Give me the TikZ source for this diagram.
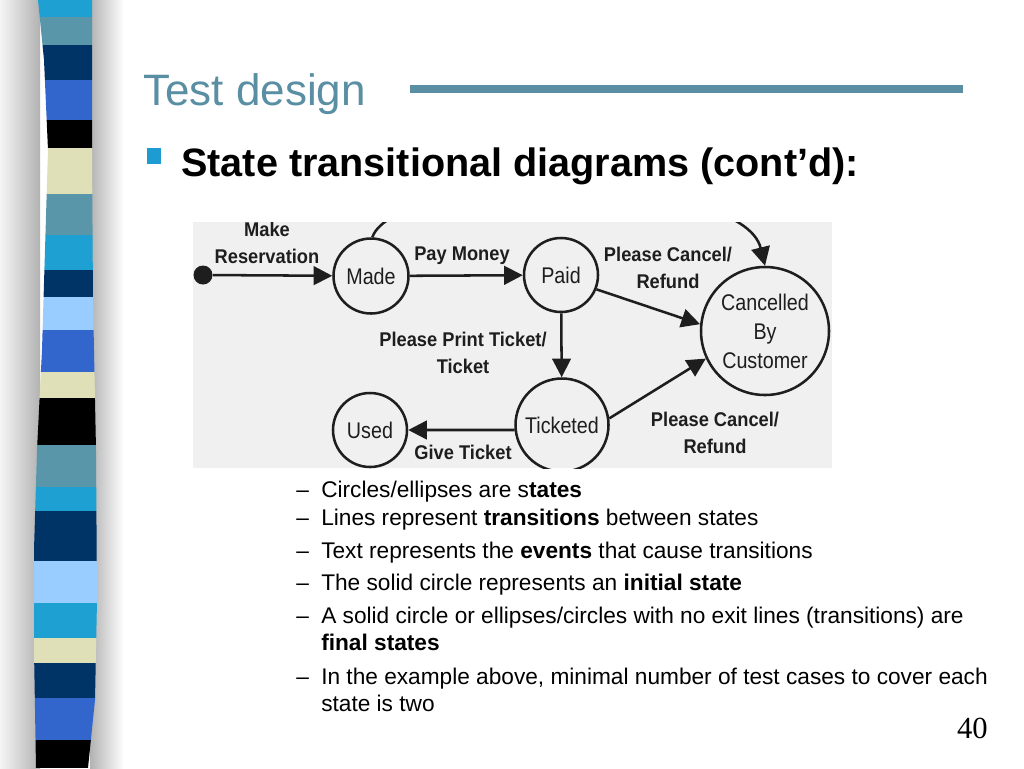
\documentclass[tikz,border=0pt]{standalone}
\usepackage{fontspec}
\setmainfont{Liberation Sans}
\newfontfamily\serifnum{Liberation Serif}
\newfontfamily\statefont{Liberation Sans}[FakeStretch=0.87]
\newfontfamily\lblfont{Liberation Sans}[FakeStretch=0.92]
\usetikzlibrary{arrows.meta}
\definecolor{scyan}{RGB}{30,160,210}
\definecolor{ssteel}{RGB}{90,150,170}
\definecolor{snavy}{RGB}{0,51,102}
\definecolor{sroyal}{RGB}{51,102,204}
\definecolor{spale}{RGB}{224,224,184}
\definecolor{slight}{RGB}{153,204,255}
\definecolor{titleblue}{RGB}{90,143,163}
\definecolor{bulletblue}{RGB}{30,155,208}
\definecolor{boxgray}{RGB}{240,240,240}
\definecolor{ink}{RGB}{30,30,30}
\tikzset{
  state/.style={circle, draw=ink, line width=1.9pt, inner sep=0pt, align=center,
    font=\statefont\fontsize{17}{21.75}\selectfont, text=ink},
  lbl/.style={font=\lblfont\bfseries\fontsize{14.9}{20.5}\selectfont, align=center, text=ink, inner sep=0pt},
  arr/.style={line width=1.9pt, draw=ink, -{Triangle[length=14pt,width=14pt]}},
  item/.style={anchor=base west, inner sep=0pt, font=\fontsize{17}{20}\selectfont, text=black}
}
\begin{document}
\begin{tikzpicture}[x=0.75pt,y=-0.75pt]
\useasboundingbox (0,0) rectangle (1024,768);
\fill[white] (0,0) rectangle (1024,768);
% shadows of the strip
\shade[left color=gray!8, right color=gray!60] (0,0) rectangle (40,768);
\shade[left color=gray!60, right color=white] (90,0) rectangle (124,768);
% strip
\begin{scope}
\clip (38,0) -- (44,60) -- (48,150) -- (45,250) -- (42,350) -- (37,450) -- (34,550)
  -- (34,650) -- (36,768) -- (88,768) -- (95,700) -- (97,600) -- (96,450) -- (93,300)
  -- (92,150) -- (92,0) -- cycle;
\foreach \ya/\yb/\c in {0/17/scyan,17/45/ssteel,45/80/snavy,80/120/sroyal,120/148/black,
  148/194/spale,194/235/ssteel,235/270/scyan,270/297/snavy,297/330/slight,330/372/sroyal,
  372/398/spale,398/445/black,445/487/ssteel,487/511/scyan,511/561/snavy,561/603/slight,
  603/638/scyan,638/663/spale,663/698/snavy,698/740/sroyal,740/768/black}
  {\fill[\c] (20,\ya) rectangle (110,\yb);}
\end{scope}
% title
\node[anchor=base west, inner sep=0pt, text=titleblue, font=\fontsize{33}{36}\selectfont] (title) at (143,105) {Test design};
\draw[titleblue, line width=6pt] (410,89) coordinate (la) -- (963,89) coordinate (lb);
\fill[bulletblue] (147,148) rectangle (161,164);
\node[anchor=base west, inner sep=0pt, font=\bfseries\fontsize{29.7}{33}\selectfont] (head) at (181,176) {State transitional diagrams (cont’d):};
% diagram
\fill[boxgray] (193,222) rectangle (832,468);
\begin{scope}
\clip (193,222) rectangle (832,468);
\node[circle, fill=ink, inner sep=0pt, minimum size=14.25pt] (init) at (203,275) {};
\node[state, minimum size=56.25pt] (made) at (371,276) {Made};
\node[state, minimum size=55.5pt] (paid) at (561,275) {Paid};
\node[state, minimum size=69.75pt] (tick) at (562,425) {Ticketed};
\node[state, minimum size=55.5pt] (used) at (370,430) {Used};
\node[state, minimum size=96pt] (canc) at (765,331) {Cancelled\\By\\Customer};
\draw[arr] (init) -- (made);
\draw[arr] (made) -- (paid);
\draw[arr] (paid) -- (tick);
\draw[arr] (tick.186) -- (used);
\draw[arr] (paid.-22) -- (canc.174);
\draw[arr] (tick.8) -- (canc.205);
\draw[arr] (made.88) .. controls (395,172) and (742,172) .. (canc.90);
\node[lbl] (lmake) at (267,243) {Make\\Reservation};
\node[lbl] (lpay) at (462,256) {Pay Money};
\node[lbl] (lprint) at (463,353) {Please Print Ticket/\\Ticket};
\node[lbl] (lc1) at (668,268) {Please Cancel/\\Refund};
\node[lbl] (lc2) at (715,433) {Please Cancel/\\Refund};
\node[lbl] (lgive) at (463,452) {Give Ticket};
\end{scope}
% bullet list
\foreach \n/\y in {1/497,2/525,3/558,4/590,5/623,6/684}
  {\node[item] (d\n) at (296,\y) {–};}
\node[item] (t1) at (321,497) {Circles/ellipses are s\textbf{tates}};
\node[item] (t2) at (321,525) {Lines represent \textbf{transitions} between states};
\node[item] (t3) at (321,558) {Text represents the \textbf{events} that cause transitions};
\node[item] (t4) at (321,590) {The solid circle represents an \textbf{initial state}};
\node[item] (t5) at (321,623) {A solid circle or ellipses/circles with no exit lines (transitions) are};
\node[item] (t5b) at (321,650) {\textbf{final states}};
\node[item] (t6) at (321,684) {In the example above, minimal number of test cases to cover each};
\node[item] (t6b) at (321,711) {state is two};
\node[anchor=base east, inner sep=0pt, font=\serifnum\fontsize{23}{26}\selectfont] (pnum) at (988,738) {40};
\end{tikzpicture}
\end{document}
